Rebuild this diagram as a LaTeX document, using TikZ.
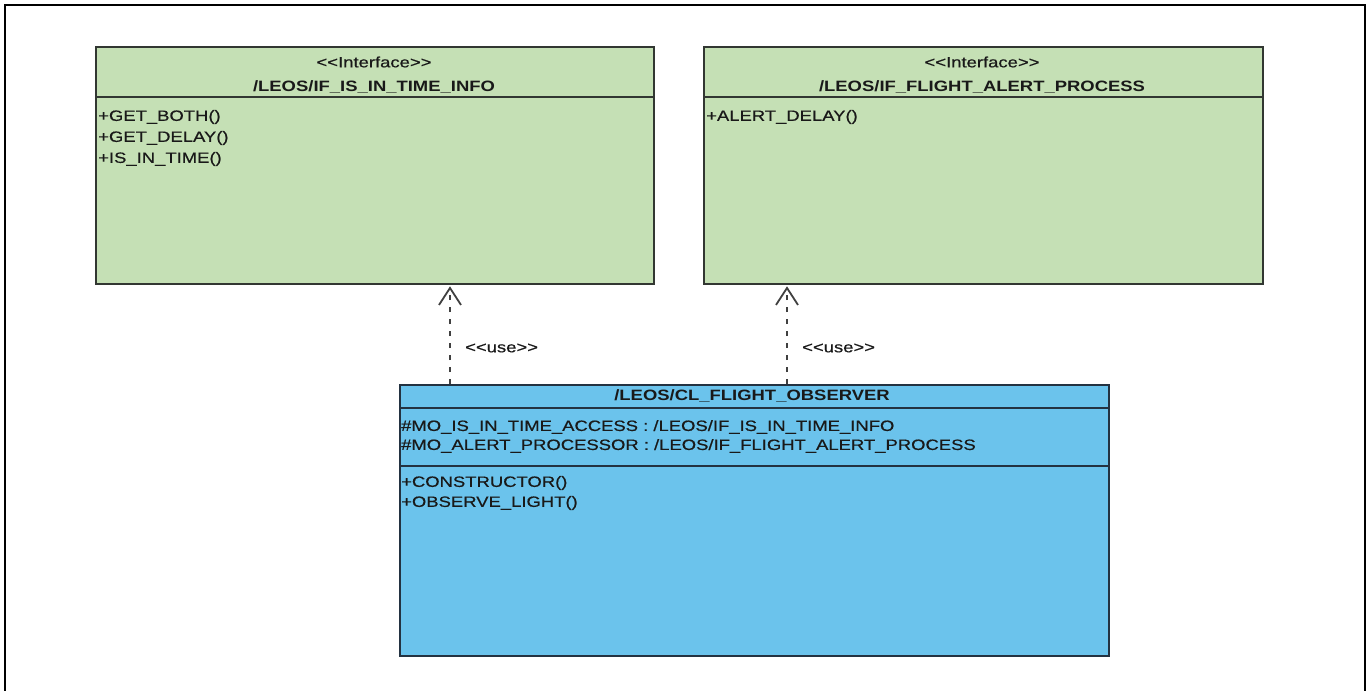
\documentclass[tikz,border=0pt]{standalone}
\usepackage{fontspec}
\setmainfont{Liberation Sans}[FakeStretch=1.23, Ligatures=NoCommon, UprightFeatures={FakeBold=0.5}]
\usetikzlibrary{arrows.meta}
\definecolor{ifgreen}{RGB}{197,224,181}
\definecolor{clblue}{RGB}{107,195,236}
\definecolor{edge}{RGB}{50,55,50}
\definecolor{bedge}{RGB}{35,50,65}
\definecolor{txt}{RGB}{25,25,25}
\begin{document}
\begin{tikzpicture}[x=1pt,y=-1pt,
  ifbox/.style={draw=edge, line width=1.8pt, fill=ifgreen, anchor=north west, inner sep=0pt},
  clbox/.style={draw=bedge, line width=1.8pt, fill=clblue, anchor=north west, inner sep=0pt},
  sep/.style={line width=1.6pt},
  lbl/.style={inner sep=0pt, text=txt, font=\fontsize{15}{18}\selectfont},
  ttl/.style={lbl, font=\fontsize{15}{18}\selectfont\bfseries},
  member/.style={lbl, anchor=west},
  dep/.style={draw=black!75, line width=2pt, dash pattern=on 5pt off 7pt,
    -{Straight Barb[length=17pt,width=22pt,line width=1.8pt]}}
]
\useasboundingbox (0,0) rectangle (1369,691);
% outer frame
\draw[line width=1.5pt] (5,691) -- (5,5) -- (1365,5) -- (1365,691);

% boxes
\node[ifbox, minimum width=558pt, minimum height=237pt] (ifa) at (95,46) {};
\node[ifbox, minimum width=559pt, minimum height=237pt] (ifb) at (703,46) {};
\node[clbox, minimum width=709pt, minimum height=271pt] (obs) at (399,384) {};

% separators
\draw[sep, draw=edge] ([yshift=-51pt]ifa.north west) -- ([yshift=-51pt]ifa.north east);
\draw[sep, draw=edge] ([yshift=-51pt]ifb.north west) -- ([yshift=-51pt]ifb.north east);
\draw[sep, draw=bedge] ([yshift=-24pt]obs.north west) -- ([yshift=-24pt]obs.north east);
\draw[sep, draw=bedge] ([yshift=-82pt]obs.north west) -- ([yshift=-82pt]obs.north east);

% left interface
\node[lbl] (ifast) at (374,62) {<{}<Interface>{}>};
\node[ttl] (ifaname) at (374,87) {/LEOS/IF\_IS\_IN\_TIME\_INFO};
\node[member] (ifam1) at (98,117) {+GET\_BOTH()};
\node[member] (ifam2) at (98,138) {+GET\_DELAY()};
\node[member] (ifam3) at (98,159) {+IS\_IN\_TIME()};

% right interface
\node[lbl] (ifbst) at (982,62) {<{}<Interface>{}>};
\node[ttl] (ifbname) at (982,87) {/LEOS/IF\_FLIGHT\_ALERT\_PROCESS};
\node[member] (ifbm1) at (706,117) {+ALERT\_DELAY()};

% class
\node[ttl] (obsname) at (752,396) {/LEOS/CL\_FLIGHT\_OBSERVER};
\node[member] (obsa1) at (401,427) {\#MO\_IS\_IN\_TIME\_ACCESS : /LEOS/IF\_IS\_IN\_TIME\_INFO};
\node[member] (obsa2) at (401,446) {\#MO\_ALERT\_PROCESSOR : /LEOS/IF\_FLIGHT\_ALERT\_PROCESS};
\node[member] (obsm1) at (401,483) {+CONSTRUCTOR()};
\node[member] (obsm2) at (401,503) {+OBSERVE\_LIGHT()};

% dependencies
\coordinate (d1) at (450,0);
\coordinate (d2) at (787,0);
\draw[dep] (obs.north -| d1) -- ([yshift=-1.5pt]ifa.south -| d1);
\draw[dep] (obs.north -| d2) -- ([yshift=-1.5pt]ifb.south -| d2);
\node[lbl, anchor=west] (use1) at (465,348) {<{}<use>{}>};
\node[lbl, anchor=west] (use2) at (802,348) {<{}<use>{}>};
\end{tikzpicture}
\end{document}
